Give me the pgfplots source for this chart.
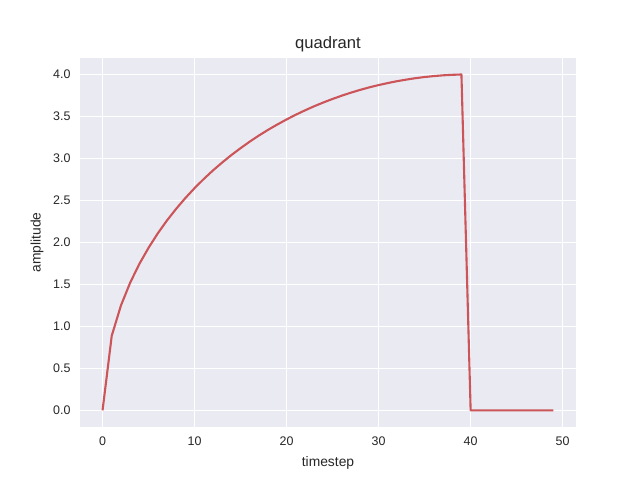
\documentclass[border=0pt]{standalone}
\usepackage{fontspec}
\setmainfont{Liberation Sans}
\usepackage{pgfplots}
\pgfplotsset{compat=1.18}
\definecolor{bgax}{HTML}{EAEAF2}
\definecolor{lred}{HTML}{CB5558}
\definecolor{txt}{HTML}{262626}

\pgfplotstableread{
t a
0 0
1 0.889
2 1.249
3 1.520
4 1.744
5 1.936
6 2.107
7 2.261
8 2.400
9 2.528
10 2.646
11 2.755
12 2.857
13 2.951
14 3.040
15 3.122
16 3.200
17 3.273
18 3.341
19 3.404
20 3.464
21 3.520
22 3.572
23 3.621
24 3.666
25 3.708
26 3.747
27 3.783
28 3.816
29 3.846
30 3.873
31 3.897
32 3.919
33 3.938
34 3.955
35 3.969
36 3.980
37 3.989
38 3.995
39 3.999
40 0
41 0
42 0
43 0
44 0
45 0
46 0
47 0
48 0
49 0
}\quadtab

\begin{document}
\begin{tikzpicture}
\path[use as bounding box] (-1in,-0.66in) rectangle (7in,5.34in);
\begin{axis}[
  at={(0,0)}, anchor=south west,
  scale only axis, width=6.2in, height=4.62in,
  xmin=-2.45, xmax=51.45, ymin=-0.2, ymax=4.2,
  axis background/.style={fill=bgax},
  axis line style={draw=none},
  major tick length=0pt,
  grid=major, grid style={white, line width=1.1pt},
  xtick={0,10,20,30,40,50},
  ytick={0,0.5,1,1.5,2,2.5,3,3.5,4},
  yticklabel style={/pgf/number format/fixed, /pgf/number format/fixed zerofill, /pgf/number format/precision=1, xshift=-5pt},
  /pgf/number format/assume math mode=true,
  tick label style={font=\fontsize{11.25}{13}\selectfont, text=txt},
  xticklabel style={yshift=-5pt},
  xlabel={timestep}, ylabel={amplitude},
  xlabel style={yshift=-3pt},
  ylabel style={yshift=2pt},
  label style={font=\fontsize{12.5}{14}\selectfont, text=txt},
  title={quadrant},
  title style={font=\fontsize{15}{17}\selectfont, text=txt, yshift=-4pt},
]
\addplot[lred, line width=1.9pt, line join=round, no markers] table[x=t, y=a] {\quadtab};
\end{axis}
\end{tikzpicture}
\end{document}
